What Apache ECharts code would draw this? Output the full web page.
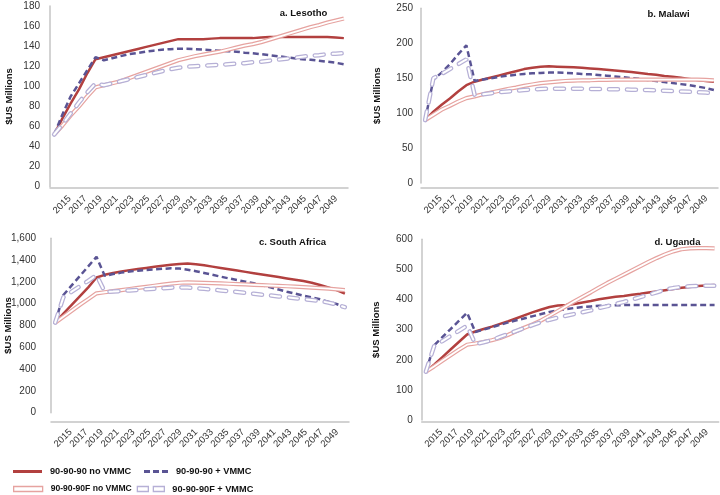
<!DOCTYPE html>
<html><head><meta charset="utf-8">
<script src="https://cdn.jsdelivr.net/npm/echarts@6/dist/echarts.min.js"></script>
<style>html,body{margin:0;padding:0;background:#fff}#c{width:720px;height:495px}</style>
</head><body><div id="c"></div>
<script>
// ---- data ----
const years = ['2015','2016','2017','2018','2019','2020','2021','2022','2023','2024','2025','2026','2027','2028','2029','2030','2031','2032','2033','2034','2035','2036','2037','2038','2039','2040','2041','2042','2043','2044','2045','2046','2047','2048','2049','2050'];
const tickYears = ['2013','2014','2015','2016','2017','2018','2019','2020','2021','2022','2023','2024','2025','2026','2027','2028','2029','2030','2031','2032','2033','2034','2035','2036','2037','2038','2039','2040','2041','2042','2043','2044','2045','2046','2047','2048','2049','2050'];
const seriesNames = ['90-90-90 no VMMC','90-90-90 + VMMC','90-90-90F no VMMC','90-90-90F + VMMC'];
const panelTitles = ['a. Lesotho','b. Malawi','c. South Africa','d. Uganda'];
const yAxisName = '$US Millions';
const yMax = [180, 250, 1600, 600];
const yStep = [20, 50, 200, 100];

const lesotho_909090 = [52,68,83,97,113,127,129,131,133,135,137,139,141,143,145,147,147,147,147,147.5,148,148,148,148,148,148.5,149,149,149,149,149,149,149,149,148.5,148];
const lesotho_909090_vmmc = [52,72,90,103,116,129,126,128,130,132,133,134.5,135.5,136.5,137,137.5,137.5,137,136.5,136,135.5,135,134.5,133.5,133,132,131,130,129,128,127,126.5,125.5,124.5,123.5,122];
const lesotho_909090F = [52,61,71,80,90,99,101,103,105,108,111,114,117,120,123,126,128,130,131.5,133,134.5,136.5,138.5,140.5,142,144,146.5,149,151.5,154,156.5,159,161,163.5,165.5,167.5];
const lesotho_909090F_vmmc = [52,62,73,84,94,103,101,103,105,107,109,111,113,115,117,118.5,119.5,120,120.5,121,121.5,122,122.5,123,124,124.5,125.5,126.5,127.5,128.5,129.5,130.5,131,132,132.5,133];

const malawi_909090 = [90,102,112,121,131,140,145,148,151,154,157,160,163,165,166.5,167,166.5,166,165.5,165,164,163,162,161,160,159,157.5,156,155,153,152,150.5,149,147.5,146,145];
const malawi_909090_vmmc = [90,148,158,170,184,197,146,148,150,152,153.5,155,156,157,157.5,158,158,157.5,157,156,155.5,154.5,153.5,152.5,151.5,150,149,147.5,146,144.5,143,141.5,140,138,136,133];
const malawi_909090F = [90,97.5,105,110.5,116.5,121.5,124,127,129.5,132,134.5,136.5,139,141,143,144,145,146,146.5,147,147,147.5,147.5,148,148,148,148,148,148,148,148,148,148,148,147.5,147];
const malawi_909090F_vmmc = [90,150,156,163,170,177,126,127,128.5,130,131,132,133,134,134.5,135,135,135,135,135,134.5,134.5,134,134,134,133.5,133.5,133,132.5,132,131.5,131,130.5,130,129.5,128];

const southafrica_909090 = [826,910,990,1070,1150,1240,1265,1282,1295,1308,1318,1328,1338,1348,1357,1365,1368,1362,1352,1340,1328,1316,1304,1292,1280,1268,1256,1244,1232,1220,1208,1192,1172,1150,1125,1092];
const southafrica_909090_vmmc = [826,1080,1168,1255,1343,1430,1255,1272,1285,1295,1303,1310,1315,1320,1325,1322,1312,1298,1282,1265,1248,1232,1217,1202,1187,1168,1150,1130,1110,1092,1074,1057,1040,1018,997,968];
const southafrica_909090F = [826,880,935,990,1042,1095,1105,1115,1125,1135,1145,1155,1165,1175,1185,1192,1195,1193,1191,1189,1186,1183,1180,1177,1173,1170,1167,1164,1160,1156,1152,1148,1143,1138,1132,1125];
const southafrica_909090F_vmmc = [826,1060,1110,1160,1210,1262,1108,1112,1117,1122,1127,1132,1137,1142,1147,1150,1148,1142,1136,1129,1122,1115,1107,1099,1091,1083,1075,1067,1059,1051,1043,1034,1025,1010,992,968];

const uganda_909090 = [160,184,209,234,259,284,294,302,310,319,328,338,348,358,367,375,380,382,385,390,395,401,405,409,412,416,419,423,427,431,435,439,442,445,447,448];
const uganda_909090_vmmc = [160,248,275,302,329,356,292,300,308,316,324,331,338,345,352,359,364,368,372,375,377,379,380,381,381.5,382,382,382,382,382,382,382,382,382,382,382];
const uganda_909090F = [160,178,197,215,233,250,254,259,265,272,283,295,307,318,331,346,362,378,394,409,424,440,455,469,483,497,511,525,538,550,560,567,570,571,571,570];
const uganda_909090F_vmmc = [160,245,262,279,296,313,252,258,265,276,286,296,306,316,325,333,340,346,352,358,364,372,378,385,392,400,408,416,424,433,438,442,444,445,446,446];

const panelData = [
  [lesotho_909090, lesotho_909090_vmmc, lesotho_909090F, lesotho_909090F_vmmc],
  [malawi_909090, malawi_909090_vmmc, malawi_909090F, malawi_909090F_vmmc],
  [southafrica_909090, southafrica_909090_vmmc, southafrica_909090F, southafrica_909090F_vmmc],
  [uganda_909090, uganda_909090_vmmc, uganda_909090F, uganda_909090F_vmmc]
];

// ---- layout & style ----
const FONT = '"Liberation Sans", Arial, sans-serif';
const RED = '#b2403f', PURPLE = '#5a5494', PINK = '#e6a3a0', LAV = '#b6b0d6', AXIS = '#c4c4c4';
const layout = [
  {left:50,   top:6,     width:298, height:180.7, xOff:1.5, labMargin:10,  nameGap:36,   tx:303.5, ty:13},
  {left:421,  top:8.3,   width:297, height:174.7, xOff:5,   labMargin:8,   nameGap:39,   tx:668.5, ty:14},
  {left:51,   top:238.3, width:298, height:174.4, xOff:9,   labMargin:15,  nameGap:37.5, tx:292.5, ty:242},
  {left:421.7,top:239.3, width:297, height:180.7, xOff:1.7, labMargin:9,   nameGap:40,   tx:677.5, ty:242}
];

const grid = [], xAxis = [], yAxis = [], series = [], graphic = [];
layout.forEach((L, k) => {
  grid.push({left:L.left, top:L.top, width:L.width, height:L.height, containLabel:false, outerBoundsMode:'none'});
  xAxis.push({type:'category', gridIndex:k, data:years, boundaryGap:true, position:'bottom', offset:L.xOff,
    axisLine:{show:true, onZero:false, lineStyle:{color:AXIS, width:1.5}}, axisTick:{show:false}, axisLabel:{show:false}, splitLine:{show:false}});
  xAxis.push({type:'category', gridIndex:k, data:tickYears, boundaryGap:true, position:'bottom', offset:L.xOff,
    axisLine:{show:false}, axisTick:{show:false}, splitLine:{show:false},
    axisLabel:{interval:(i, v) => (+v % 2 === 1 && +v >= 2015), rotate:45, fontSize:9.5, color:'#333', fontFamily:FONT, margin:9}});
  yAxis.push({type:'value', gridIndex:k, min:0, max:yMax[k], interval:yStep[k],
    axisLine:{show:true, lineStyle:{color:AXIS, width:1.5}}, axisTick:{show:false}, splitLine:{show:false},
    axisLabel:{fontSize:10, color:'#333', fontFamily:FONT, margin:L.labMargin, formatter:v => v.toLocaleString('en-US')},
    name:yAxisName, nameLocation:'middle', nameRotate:90, nameGap:L.nameGap, nameMoveOverlap:false,
    nameTextStyle:{fontWeight:'bold', fontSize:9.5, color:'#111', fontFamily:FONT}});
  const d = panelData[k];
  const base = {type:'line', xAxisIndex:2*k, yAxisIndex:k, symbol:'none', silent:true, animation:false};
  series.push(Object.assign({}, base, {name:seriesNames[0], data:d[0], z:2, itemStyle:{color:RED}, lineStyle:{color:RED, width:2.5}}));
  series.push(Object.assign({}, base, {name:seriesNames[1], data:d[1], z:3, itemStyle:{color:PURPLE}, lineStyle:{color:PURPLE, width:2.5, type:[6,3.5]}}));
  series.push(Object.assign({}, base, {name:seriesNames[2], data:d[2], z:4, itemStyle:{color:PINK}, lineStyle:{color:PINK, width:4.2, join:'round'}}));
  series.push(Object.assign({}, base, {name:seriesNames[2] + ' inner', data:d[2], z:5, itemStyle:{color:'#fff'}, lineStyle:{color:'#fff', width:1.8, join:'round'}}));
  series.push(Object.assign({}, base, {name:seriesNames[3], data:d[3], z:6, itemStyle:{color:LAV}, lineStyle:{color:LAV, width:4.5, type:[9,9], cap:'round'}}));
  series.push(Object.assign({}, base, {name:seriesNames[3] + ' inner', data:d[3], z:7, itemStyle:{color:'#fff'}, lineStyle:{color:'#fff', width:2, type:[9,9], cap:'round'}}));
  graphic.push({type:'text', x:L.tx, y:L.ty, silent:true,
    style:{text:panelTitles[k], font:'bold 9.5px ' + FONT, fill:'#111', align:'center', verticalAlign:'middle'}});
});

const legendText = {fontSize:9.2, fontWeight:'bold', color:'#111', fontFamily:FONT, padding:[0,0,0,3]};
const legendTextSmall = Object.assign({}, legendText, {fontSize:8.6});
const legend = [
  {left:13, top:467, padding:0, itemWidth:29, itemHeight:3, textStyle:legendText, selectedMode:false,
   data:[{name:seriesNames[0], icon:'rect', itemStyle:{color:RED}}]},
  {left:144, top:467, padding:0, itemWidth:24, itemHeight:3, textStyle:legendText, selectedMode:false,
   data:[{name:seriesNames[1], icon:'path://M0,0H6V3H0Z M9,0H15V3H9Z M18,0H24V3H18Z', itemStyle:{color:PURPLE}}]},
  {left:13, top:484.5, padding:0, itemWidth:29, itemHeight:5, textStyle:legendTextSmall, selectedMode:false,
   data:[{name:seriesNames[2], icon:'rect', itemStyle:{color:'#fff', borderColor:PINK, borderWidth:1.3}}]},
  {left:136.7, top:484.5, padding:0, itemWidth:27, itemHeight:5, textStyle:legendText, selectedMode:false,
   data:[{name:seriesNames[3], icon:'path://M0,0H11V5H0Z M16,0H27V5H16Z', itemStyle:{color:'#fff', borderColor:LAV, borderWidth:1.3}}]}
];

const chart = echarts.init(document.getElementById('c'), null, {renderer:'canvas', width:720, height:495});
chart.setOption({animation:false, backgroundColor:'#fff', grid, xAxis, yAxis, series, legend, graphic});
</script></body></html>
